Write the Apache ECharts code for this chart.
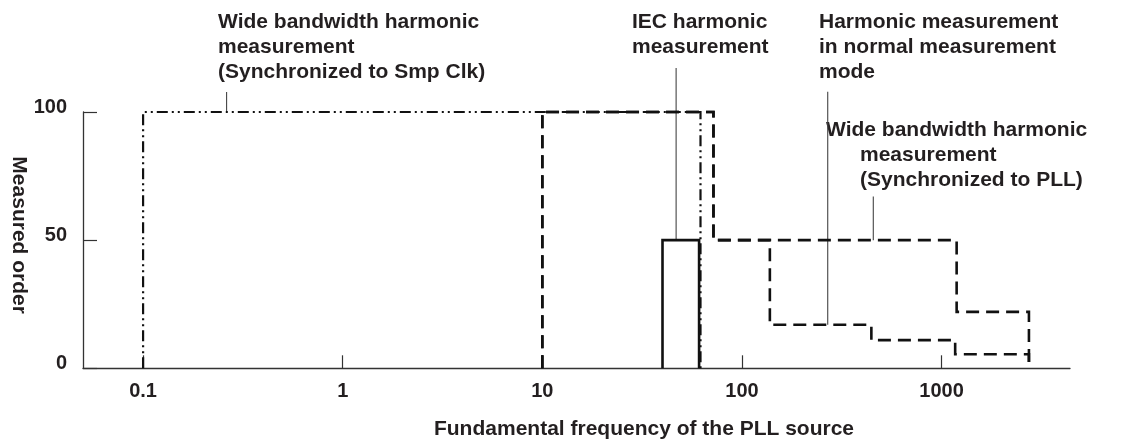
<!DOCTYPE html>
<html>
<head>
<meta charset="utf-8">
<script src="https://cdn.jsdelivr.net/npm/echarts@6/dist/echarts.min.js"></script>
<style>
  html, body { margin: 0; padding: 0; background: #fff; }
  #chart { width: 1137px; height: 442px; }
</style>
</head>
<body>
<div id="chart"></div>
<script>
// Fundamental frequency (Hz) and maximum measured harmonic order, as step outlines
var xTickValues = [0.1, 1, 10, 100, 1000];
var yTickValues = [0, 50, 100];

var smpClkFreq  = [0.1, 0.1, 62, 62];
var smpClkOrder = [0, 100, 100, 0];

var iecFreq  = [40, 40, 61, 61];
var iecOrder = [0, 50, 50, 0];

var normalFreq  = [10, 10, 72, 72, 138, 138, 445, 445, 1170, 1170, 2740, 2740];
var normalOrder = [0, 100, 100, 50, 50, 17, 17, 11, 11, 5.5, 5.5, 0];

var pllFreq  = [10, 10, 72, 72, 1190, 1190, 2740, 2740];
var pllOrder = [0, 100, 100, 50, 50, 22, 22, 0];

// Leader lines from each caption down to its outline: [freq, order] end points
var leaderSmpClk = [[0.262, 100], [0.262, 107.8]];
var leaderIec    = [[46.8, 50], [46.8, 117.2]];
var leaderNormal = [[269, 17], [269, 107.9]];
var leaderPll    = [[455, 50], [455, 67]];

var FONT = '"Liberation Sans", Arial, Helvetica, sans-serif';
var TEXT = '#231f20';

function pairs(xs, ys) {
  return xs.map(function (x, i) { return [x, ys[i]]; });
}

function outline(name, xs, ys, dash, width) {
  return {
    name: name,
    type: 'line',
    data: pairs(xs, ys),
    symbol: 'none',
    clip: false,
    z: 3,
    lineStyle: { color: '#111', width: width, type: dash, cap: 'butt', join: 'miter' },
    emphasis: { disabled: true }
  };
}

function leader(pts) {
  return {
    type: 'line',
    data: pts,
    symbol: 'none',
    clip: false,
    z: 2,
    lineStyle: { color: '#444', width: 1.1, type: 'solid' },
    emphasis: { disabled: true },
    silent: true
  };
}

function caption(text, x, y) {
  return {
    type: 'text',
    left: x,
    top: y,
    style: {
      text: text,
      fill: TEXT,
      font: 'bold 21px ' + FONT,
      lineHeight: 25,
      textAlign: 'left',
      textVerticalAlign: 'top'
    }
  };
}

var chart = echarts.init(document.getElementById('chart'), null, { renderer: 'canvas' });

chart.setOption({
  animation: false,
  backgroundColor: '#fff',
  grid: {
    left: 83, right: 67, top: 112, bottom: 73.7,
    containLabel: false,
    outerBoundsMode: 'none'
  },
  xAxis: {
    type: 'log',
    logBase: 10,
    min: 0.05,
    max: 4400,
    name: 'Fundamental frequency of the PLL source',
    nameLocation: 'middle',
    nameGap: 50,
    nameMoveOverlap: false,
    nameTextStyle: {
      color: TEXT, fontSize: 21, fontWeight: 'bold', fontFamily: FONT,
      padding: [0, 0, 0, 135]
    },
    axisLine: { lineStyle: { color: '#333', width: 1.3 } },
    axisTick: { inside: true, length: 13, customValues: xTickValues, lineStyle: { color: '#333', width: 1.2 } },
    axisLabel: {
      customValues: xTickValues,
      margin: 13,
      color: TEXT, fontSize: 20, fontWeight: 'bold', fontFamily: FONT,
      formatter: function (v) { return String(v); }
    },
    splitLine: { show: false },
    minorTick: { show: false }
  },
  yAxis: {
    type: 'value',
    min: 0,
    max: 100,
    interval: 50,
    name: 'Measured order',
    nameLocation: 'middle',
    nameRotate: -90,
    nameGap: 54,
    nameMoveOverlap: false,
    nameTextStyle: {
      color: TEXT, fontSize: 21, fontWeight: 'bold', fontFamily: FONT,
      padding: [0, 10, 0, 0]
    },
    axisLine: { show: true, lineStyle: { color: '#333', width: 1.3 } },
    axisTick: { show: true, inside: true, length: 14, lineStyle: { color: '#333', width: 1.2 } },
    axisLabel: {
      margin: 16,
      color: TEXT, fontSize: 20, fontWeight: 'bold', fontFamily: FONT,
      verticalAlign: 'bottom',
      lineHeight: 10
    },
    splitLine: { show: false }
  },
  series: [
    outline('Wide bandwidth harmonic measurement (Synchronized to Smp Clk)', smpClkFreq, smpClkOrder, [11, 4, 2, 4, 2, 4], 2.2),
    outline('IEC harmonic measurement', iecFreq, iecOrder, 'solid', 2.6),
    outline('Harmonic measurement in normal measurement mode', normalFreq, normalOrder, [13, 7], 2.6),
    outline('Wide bandwidth harmonic measurement (Synchronized to PLL)', pllFreq, pllOrder, [13, 7], 2.6),
    leader(leaderSmpClk),
    leader(leaderIec),
    leader(leaderNormal),
    leader(leaderPll)
  ],
  graphic: [
    caption('Wide bandwidth harmonic\nmeasurement\n(Synchronized to Smp Clk)', 218, 9.6),
    caption('IEC harmonic\nmeasurement', 632, 9.6),
    caption('Harmonic measurement\nin normal measurement\nmode', 819, 9.6),
    caption('Wide bandwidth harmonic', 826, 117.6),
    caption('measurement\n(Synchronized to PLL)', 860, 142.6)
  ]
});
</script>
</body>
</html>
